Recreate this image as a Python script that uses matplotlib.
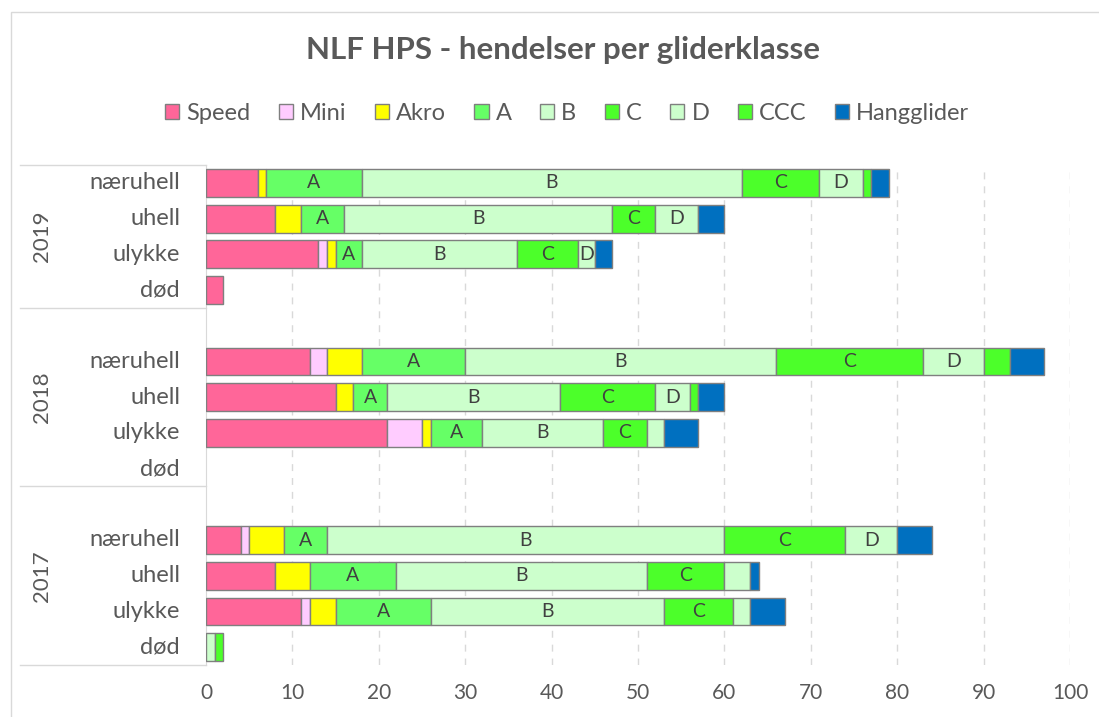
import matplotlib.pyplot as plt
from matplotlib.patches import Patch, Rectangle
from matplotlib.lines import Line2D
import matplotlib.transforms as mtransforms
import numpy as np

plt.rcParams['font.family'] = ['Lato', 'DejaVu Sans']

# data: rows are 2019, 2018, 2017 x (næruhell, uhell, ulykke, død)
years = ['2019', '2018', '2017']
categories = ['næruhell', 'uhell', 'ulykke', 'død']
classes = ['Speed', 'Mini', 'Akro', 'A', 'B', 'C', 'D', 'CCC', 'Hangglider']

speed = [6, 8, 13, 2, 12, 15, 21, 0, 4, 8, 11, 0]
mini = [0, 0, 1, 0, 2, 0, 4, 0, 1, 0, 1, 0]
akro = [1, 3, 1, 0, 4, 2, 1, 0, 4, 4, 3, 0]
cls_a = [11, 5, 3, 0, 12, 4, 6, 0, 5, 10, 11, 0]
cls_b = [44, 31, 18, 0, 36, 20, 14, 0, 46, 29, 27, 1]
cls_c = [9, 5, 7, 0, 17, 11, 5, 0, 14, 9, 8, 1]
cls_d = [5, 5, 2, 0, 7, 4, 2, 0, 6, 3, 2, 0]
ccc = [1, 0, 0, 0, 3, 1, 0, 0, 0, 0, 0, 0]
hangglider = [2, 3, 2, 0, 4, 3, 4, 0, 4, 1, 4, 0]

series = [speed, mini, akro, cls_a, cls_b, cls_c, cls_d, ccc, hangglider]
colors = ['#FF6699', '#FFCCFF', '#FFFF00', '#66FF66', '#CCFFCC',
          '#4CFF2A', '#CCFFCC', '#4CFF2A', '#0070C0']
labelled = ['A', 'B', 'C', 'D']
# data labels that are not shown in the original (row index, class)
hidden = [(6, 'D'), (9, 'D'), (10, 'D'), (11, 'B'), (11, 'C')]

grey = '#595959'

# y slot of each row: groups of 4 with one empty slot above 2018 and 2017
ypos = []
for g in range(3):
    top = 13 - g * 5
    ypos += [top, top - 1, top - 2, top - 3]
ypos = np.array(ypos)

fig = plt.figure(figsize=(10.99, 7.17), dpi=100)
ax = fig.add_axes([206 / 1099, 1 - 665 / 717, 864 / 1099, 500 / 717])

left = np.zeros(len(ypos))
for name, vals, col in zip(classes, series, colors):
    vals = np.array(vals, dtype=float)
    nz = vals > 0
    ax.barh(ypos[nz], vals[nz], left=left[nz], height=0.78, color=col,
            edgecolor='#7F7F7F', linewidth=1.0, zorder=3)
    if name in labelled:
        for i, v in enumerate(vals):
            if v > 0 and (i, name) not in hidden:
                ax.text(left[i] + v / 2, ypos[i], name, ha='center', va='center',
                        fontsize=14, color='#404040', zorder=4)
    left += vals

ax.set_xlim(0, 100)
ax.set_ylim(-0.5, 13.5)
ax.set_xticks(np.arange(0, 101, 10))
ax.set_yticks([])
ax.tick_params(axis='x', length=0, pad=13, labelsize=15, labelcolor=grey)
for x in range(10, 101, 10):
    ax.axvline(x, color='#D9D9D9', linewidth=1.0, linestyle=(0, (5, 5)), zorder=1)
for s in ['top', 'right', 'bottom']:
    ax.spines[s].set_visible(False)
ax.spines['left'].set_color('#D9D9D9')

# multi-level category axis
trans = mtransforms.blended_transform_factory(ax.transAxes, ax.transData)
for i, y in enumerate(ypos):
    ax.text(-0.030, y, categories[i % 4], transform=trans, ha='right', va='center',
            fontsize=17, color=grey)
for y in [-0.5, 4.5, 9.5, 13.5]:
    ax.add_line(Line2D([-0.215, 0], [y, y], transform=trans, color='#D9D9D9',
                       linewidth=1.0, clip_on=False))
bounds = [(13.5, 9.5), (9.5, 4.5), (4.5, -0.5)]
for yr, (top, bottom) in zip(years, bounds):
    ax.text(-0.19, (top + bottom) / 2, yr, transform=trans, rotation=90,
            ha='center', va='center', fontsize=16, color=grey)

# chart area border
fig.patches.append(Rectangle((11 / 1099, -0.1), 1.2, 1.1 - 12 / 717, transform=fig.transFigure,
                             fill=False, edgecolor='#D9D9D9', linewidth=1.0))

fig.text(0.512, 1 - 50 / 717, 'NLF HPS - hendelser per gliderklasse', ha='center', va='center',
         fontsize=22.5, fontweight='bold', color=grey)

handles = [Patch(facecolor=c, edgecolor='#7F7F7F', linewidth=1.0) for c in colors]
fig.legend(handles, classes, loc='center', bbox_to_anchor=(0.516, 1 - 113 / 717), ncol=9,
           frameon=False, fontsize=17, labelcolor=grey, handlelength=0.6, handleheight=0.6,
           handletextpad=0.3, columnspacing=1.2)

fig.savefig('out.png', dpi=100)
